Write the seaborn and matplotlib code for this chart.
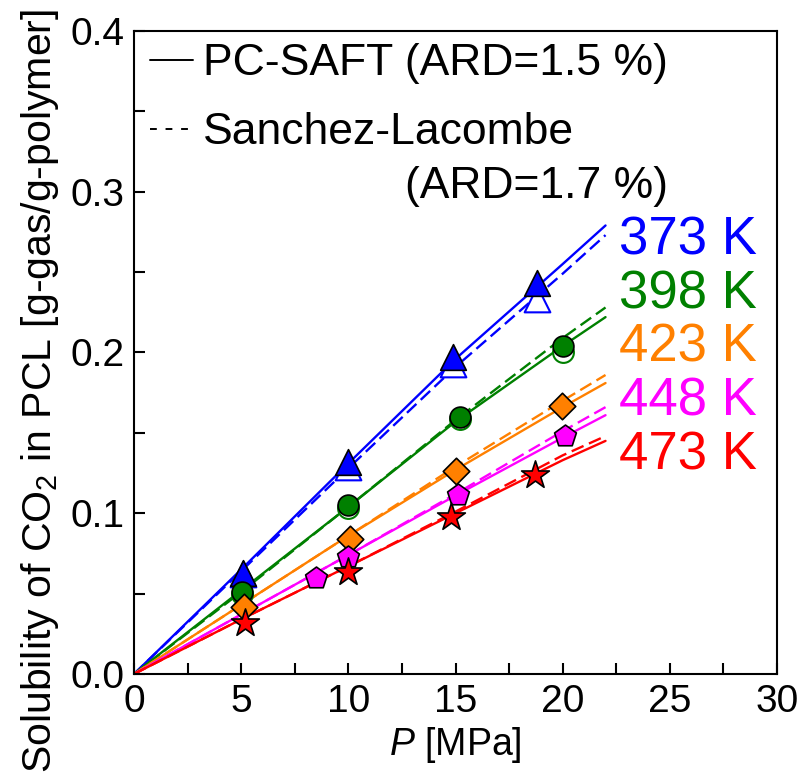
import numpy as np
import pandas as pd
import matplotlib
matplotlib.use("Agg")
import matplotlib.pyplot as plt
import seaborn as sns
from matplotlib.ticker import MultipleLocator, FormatStrFormatter
from matplotlib.lines import Line2D

sns.set_style("ticks")
plt.rcParams['font.family'] = ['Liberation Sans', 'DejaVu Sans']
plt.rcParams['mathtext.fontset'] = 'custom'
plt.rcParams['mathtext.rm'] = 'Liberation Sans'
plt.rcParams['mathtext.it'] = 'Liberation Sans:italic'
for k in ['text.color', 'axes.labelcolor', 'xtick.color', 'ytick.color', 'axes.edgecolor']:
    plt.rcParams[k] = 'black'

temps = ["373 K", "398 K", "423 K", "448 K", "473 K"]
colors = ["#0000FF", "#008000", "#FF8000", "#FF00FF", "#FF0000"]
markers = ["^", "o", "D", "p", "*"]
msizes = [18.5, 15, 13.5, 16.5, 21]

# experimental (filled)
exp_P = [
    [5.1, 10.0, 14.9, 18.8],
    [5.05, 10.0, 15.2, 20.0],
    [5.15, 10.1, 15.0, 19.95],
    [8.5, 10.0, 15.1, 20.1],
    [5.2, 10.0, 14.8, 18.7],
]
exp_S = [
    [0.063, 0.132, 0.197, 0.243],
    [0.051, 0.105, 0.160, 0.204],
    [0.0415, 0.084, 0.1265, 0.1665],
    [0.060, 0.0725, 0.1115, 0.148],
    [0.0317, 0.0637, 0.0975, 0.124],
]
# second data set (open)
open_P = [
    [5.1, 10.0, 14.9, 18.8],
    [5.05, 10.0, 15.2, 20.0],
]
open_S = [
    [0.062, 0.129, 0.193, 0.233],
    [0.050, 0.1035, 0.1587, 0.200],
]

# model curves
model_P = [0, 5, 10, 15, 20, 22]
pcsaft_S = [
    [0, 0.065, 0.131, 0.196, 0.255, 0.279],
    [0, 0.052, 0.104, 0.157, 0.204, 0.222],
    [0, 0.043, 0.086, 0.127, 0.166, 0.181],
    [0, 0.037, 0.074, 0.111, 0.147, 0.161],
    [0, 0.034, 0.067, 0.100, 0.133, 0.145],
]
sl_S = [
    [0, 0.064, 0.128, 0.191, 0.249, 0.273],
    [0, 0.051, 0.104, 0.158, 0.209, 0.228],
    [0, 0.043, 0.086, 0.129, 0.170, 0.186],
    [0, 0.037, 0.074, 0.112, 0.151, 0.166],
    [0, 0.034, 0.067, 0.101, 0.136, 0.148],
]

fig = plt.figure(figsize=(8.03, 7.74), dpi=100)
ax = fig.add_axes([0.1669, 0.1292, 0.8007, 0.8308])

for i in range(5):
    df = pd.DataFrame({"P": model_P, "S": pcsaft_S[i]})
    sns.lineplot(data=df, x="P", y="S", ax=ax, color=colors[i], lw=1.7, zorder=2)
    df2 = pd.DataFrame({"P": model_P, "S": sl_S[i]})
    sns.lineplot(data=df2, x="P", y="S", ax=ax, color=colors[i], lw=1.7,
                 linestyle=(0, (5.5, 2.5)), zorder=2)

for i in range(len(open_P)):
    df = pd.DataFrame({"P": open_P[i], "S": open_S[i]})
    sns.scatterplot(data=df, x="P", y="S", ax=ax, marker=markers[i],
                    s=msizes[i] ** 2, facecolor="white", edgecolor=colors[i],
                    linewidth=1.5, zorder=3)

for i in range(5):
    df = pd.DataFrame({"P": exp_P[i], "S": exp_S[i]})
    sns.scatterplot(data=df, x="P", y="S", ax=ax, marker=markers[i],
                    s=msizes[i] ** 2, color=colors[i], edgecolor="black",
                    linewidth=1.2, zorder=4)

ax.set_xlim(0, 30)
ax.set_ylim(0, 0.4)
ax.xaxis.set_major_locator(MultipleLocator(5))
ax.xaxis.set_minor_locator(MultipleLocator(2.5))
ax.yaxis.set_major_locator(MultipleLocator(0.1))
ax.yaxis.set_minor_locator(MultipleLocator(0.05))
ax.yaxis.set_major_formatter(FormatStrFormatter('%.1f'))
ax.tick_params(which='both', direction='in', length=8, width=1.5,
               labelsize=28, top=False, right=False, pad=7)
for s in ax.spines.values():
    s.set_linewidth(1.5)
    s.set_color('black')

ax.set_xlabel("$\\it{P}$ [MPa]", fontsize=27, labelpad=4)
ax.set_ylabel("Solubility of CO$_2$ in PCL [g-gas/g-polymer]", fontsize=29.5)
ax.yaxis.set_label_coords(-0.114, 0.44)

label_base = [0.2607, 0.2274, 0.1941, 0.1608, 0.1275]
for i in range(5):
    ax.text(29.07, label_base[i], temps[i], color=colors[i], fontsize=38,
            ha='right', va='baseline')

handles = [Line2D([], [], color='black', lw=1.4),
           Line2D([], [], color='black', lw=1.4, linestyle=(0, (3.5, 4.5)))]
leg = ax.legend(handles, ["PC-SAFT (ARD=1.5 %)", "Sanchez-Lacombe"],
                loc='upper left', bbox_to_anchor=(0.025, 0.981), frameon=False,
                fontsize=32, handlelength=0.97, handletextpad=0.22,
                labelspacing=0.63, borderaxespad=0.0, borderpad=0.0)
ax.text(0.830, 0.740, "(ARD=1.7 %)", transform=ax.transAxes, fontsize=32,
        ha='right', va='baseline')

fig.savefig("out.png", dpi=100)
